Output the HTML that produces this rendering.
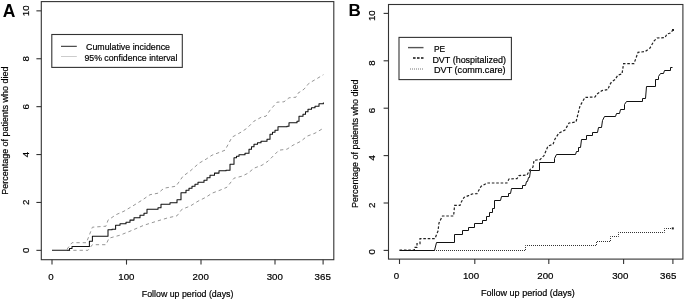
<!DOCTYPE html>
<html><head><meta charset="utf-8"><title>Figure</title>
<style>html,body{margin:0;padding:0;background:#fff}svg{display:block}</style></head>
<body>
<svg width="685" height="300" viewBox="0 0 685 300" font-family="Liberation Sans, Arial, sans-serif" font-size="9" fill="#000" stroke="#000" stroke-width="0.2">
<rect width="685" height="300" fill="#fff" stroke="none"/>
<rect x="41.3" y="1.6" width="292.5" height="258.1" fill="none" stroke="#333" stroke-width="1.1"/>
<line x1="52" y1="259.7" x2="52" y2="264.6" stroke="#333" stroke-width="1.1"/>
<line x1="126.5" y1="259.7" x2="126.5" y2="264.6" stroke="#333" stroke-width="1.1"/>
<line x1="201" y1="259.7" x2="201" y2="264.6" stroke="#333" stroke-width="1.1"/>
<line x1="275" y1="259.7" x2="275" y2="264.6" stroke="#333" stroke-width="1.1"/>
<line x1="323.1" y1="259.7" x2="323.1" y2="264.6" stroke="#333" stroke-width="1.1"/>
<line x1="36.4" y1="250.35" x2="41.3" y2="250.35" stroke="#333" stroke-width="1.1"/>
<line x1="36.4" y1="202.45" x2="41.3" y2="202.45" stroke="#333" stroke-width="1.1"/>
<line x1="36.4" y1="154.55" x2="41.3" y2="154.55" stroke="#333" stroke-width="1.1"/>
<line x1="36.4" y1="106.65" x2="41.3" y2="106.65" stroke="#333" stroke-width="1.1"/>
<line x1="36.4" y1="58.75" x2="41.3" y2="58.75" stroke="#333" stroke-width="1.1"/>
<line x1="36.4" y1="10.85" x2="41.3" y2="10.85" stroke="#333" stroke-width="1.1"/>
<text x="51.0" y="279.7" font-size="9.7" text-anchor="middle">0</text>
<text x="126.4" y="279.7" font-size="9.7" text-anchor="middle">100</text>
<text x="200.7" y="279.7" font-size="9.7" text-anchor="middle">200</text>
<text x="274.8" y="279.7" font-size="9.7" text-anchor="middle">300</text>
<text x="322.7" y="279.7" font-size="9.7" text-anchor="middle">365</text>
<text transform="translate(28.9,250.3) rotate(-90)" font-size="9.7" text-anchor="middle">0</text>
<text transform="translate(28.9,202.4) rotate(-90)" font-size="9.7" text-anchor="middle">2</text>
<text transform="translate(28.9,154.6) rotate(-90)" font-size="9.7" text-anchor="middle">4</text>
<text transform="translate(28.9,106.7) rotate(-90)" font-size="9.7" text-anchor="middle">6</text>
<text transform="translate(28.9,58.8) rotate(-90)" font-size="9.7" text-anchor="middle">8</text>
<text transform="translate(28.9,10.8) rotate(-90)" font-size="9.7" text-anchor="middle">10</text>
<text x="141.8" y="296.9" font-size="9.2" textLength="91.6" lengthAdjust="spacingAndGlyphs">Follow up period (days)</text>
<text transform="translate(7.7,194.8) rotate(-90)" font-size="8.6" textLength="128.3" lengthAdjust="spacingAndGlyphs">Percentage of patients who died</text>
<text x="2.8" y="16.5" font-size="17.5" font-weight="bold" stroke="none">A</text>
<rect x="51.8" y="34.5" width="130.5" height="32.9" fill="#fff" stroke="#333" stroke-width="1.1"/>
<line x1="61" y1="46.3" x2="76.8" y2="46.3" stroke="#222" stroke-width="1"/>
<line x1="61" y1="56.5" x2="76.8" y2="56.5" stroke="#ccc" stroke-width="1"/>
<text x="86" y="49.8" font-size="9.6" textLength="84" lengthAdjust="spacingAndGlyphs">Cumulative incidence</text>
<text x="84.4" y="60.9" font-size="9.6" textLength="93" lengthAdjust="spacingAndGlyphs">95% confidence interval</text>
<polyline points="67.0,249.2 72.0,242.7 86.4,242.7 92.4,227.2 106.0,226.2 108.0,220.2 116.0,214.7 124.0,211.2 134.0,205.2 142.0,200.2 150.0,194.7 158.0,193.2 164.0,188.2 176.0,186.2 183.0,176.2 190.0,171.2 199.0,163.2 206.0,159.2 212.0,155.2 220.0,152.2 225.0,150.2 232.0,137.2 241.0,132.2 247.0,128.2 254.0,121.2 262.0,116.8 266.0,116.2 270.0,110.2 277.0,102.2 284.0,101.8 289.0,97.8 296.0,97.2 298.0,93.2 304.0,89.2 309.0,83.2 316.0,79.2 323.4,74.7" fill="none" stroke="#969696" stroke-width="1" stroke-dasharray="3.3,3"/>
<polyline points="67.0,250.3 88.0,250.3 92.4,244.7 106.0,244.7 109.0,238.2 120.0,235.2 130.0,231.2 144.0,225.2 152.0,222.7 160.0,220.2 168.0,217.8 177.0,215.8 182.0,209.2 190.0,206.2 198.0,201.2 206.0,197.2 212.0,193.2 220.0,190.2 227.0,187.2 234.0,178.2 242.0,176.2 248.0,173.2 254.0,168.2 262.0,165.2 268.0,161.2 275.0,154.2 279.0,150.2 287.0,149.2 293.0,145.2 301.0,141.2 307.0,136.2 315.0,133.2 323.4,128.2" fill="none" stroke="#969696" stroke-width="1" stroke-dasharray="3.3,3"/>
<polyline points="52.0,250.3 67.0,250.3 69.5,250.3 69.5,248.4 72.0,248.4 72.0,246.4 86.4,246.4 89.4,246.4 89.4,241.3 92.4,241.3 92.4,236.2 106.0,236.2 108.0,236.2 108.0,229.8 112.0,229.8 112.0,229.2 115.6,229.2 115.6,225.2 120.0,225.2 120.0,223.8 126.0,223.8 126.0,222.2 130.0,222.2 130.0,220.1 134.0,220.1 134.0,217.8 140.0,217.8 140.0,215.2 144.0,215.2 144.0,213.2 147.0,213.2 147.0,209.2 158.0,209.2 158.0,207.8 161.0,207.8 161.0,204.2 170.0,204.2 170.0,202.7 177.0,202.7 177.0,199.8 181.0,199.8 181.0,192.7 186.0,192.7 186.0,190.2 189.0,190.2 189.0,188.2 192.0,188.2 192.0,186.2 195.0,186.2 195.0,184.2 198.0,184.2 198.0,182.2 204.0,182.2 204.0,180.2 207.0,180.2 207.0,177.8 210.0,177.8 210.0,175.2 214.5,175.2 214.5,173.1 219.0,173.1 219.0,170.8 226.0,170.8 226.0,170.2 230.0,170.2 230.0,164.2 234.0,164.2 234.0,157.8 236.5,157.8 236.5,156.3 239.0,156.3 239.0,154.8 245.0,154.8 245.0,153.2 249.0,153.2 249.0,149.2 251.5,149.2 251.5,146.8 254.0,146.8 254.0,144.2 257.5,144.2 257.5,142.8 261.0,142.8 261.0,141.2 267.0,141.2 267.0,139.2 270.0,139.2 270.0,134.2 272.5,134.2 272.5,132.2 275.0,132.2 275.0,130.2 278.0,130.2 278.0,126.8 287.0,126.8 287.0,126.2 289.0,126.2 289.0,122.8 297.0,122.8 297.0,121.2 299.0,121.2 299.0,116.2 303.0,116.2 303.0,114.2 305.5,114.2 305.5,111.8 308.0,111.8 308.0,109.2 311.5,109.2 311.5,107.8 315.0,107.8 315.0,106.2 319.0,106.2 319.0,103.7 323.4,103.7 323.4,102.5" fill="none" stroke="#111" stroke-width="1.05" stroke-linejoin="round"/>
<rect x="388.5" y="4.5" width="294.4" height="254.6" fill="none" stroke="#333" stroke-width="1.1"/>
<line x1="399.5" y1="259.1" x2="399.5" y2="264.0" stroke="#333" stroke-width="1.1"/>
<line x1="474.8" y1="259.1" x2="474.8" y2="264.0" stroke="#333" stroke-width="1.1"/>
<line x1="548.8" y1="259.1" x2="548.8" y2="264.0" stroke="#333" stroke-width="1.1"/>
<line x1="623.6" y1="259.1" x2="623.6" y2="264.0" stroke="#333" stroke-width="1.1"/>
<line x1="672.9" y1="259.1" x2="672.9" y2="264.0" stroke="#333" stroke-width="1.1"/>
<line x1="383.6" y1="250.40" x2="388.5" y2="250.40" stroke="#333" stroke-width="1.1"/>
<line x1="383.6" y1="203.00" x2="388.5" y2="203.00" stroke="#333" stroke-width="1.1"/>
<line x1="383.6" y1="155.60" x2="388.5" y2="155.60" stroke="#333" stroke-width="1.1"/>
<line x1="383.6" y1="108.20" x2="388.5" y2="108.20" stroke="#333" stroke-width="1.1"/>
<line x1="383.6" y1="60.80" x2="388.5" y2="60.80" stroke="#333" stroke-width="1.1"/>
<line x1="383.6" y1="13.40" x2="388.5" y2="13.40" stroke="#333" stroke-width="1.1"/>
<text x="396.5" y="278.5" font-size="9.7" text-anchor="middle">0</text>
<text x="471.0" y="278.5" font-size="9.7" text-anchor="middle">100</text>
<text x="545.4" y="278.5" font-size="9.7" text-anchor="middle">200</text>
<text x="620.3" y="278.5" font-size="9.7" text-anchor="middle">300</text>
<text x="668.2" y="278.5" font-size="9.7" text-anchor="middle">365</text>
<text transform="translate(375.4,251.8) rotate(-90)" font-size="9.7" text-anchor="middle">0</text>
<text transform="translate(375.4,205.3) rotate(-90)" font-size="9.7" text-anchor="middle">2</text>
<text transform="translate(375.4,157.9) rotate(-90)" font-size="9.7" text-anchor="middle">4</text>
<text transform="translate(375.4,110.5) rotate(-90)" font-size="9.7" text-anchor="middle">6</text>
<text transform="translate(375.4,63.1) rotate(-90)" font-size="9.7" text-anchor="middle">8</text>
<text transform="translate(375.4,15.7) rotate(-90)" font-size="9.7" text-anchor="middle">10</text>
<text x="481" y="296.0" font-size="9.2" textLength="93.8" lengthAdjust="spacingAndGlyphs">Follow up period (days)</text>
<text transform="translate(358.1,208) rotate(-90)" font-size="8.6" textLength="128.4" lengthAdjust="spacingAndGlyphs">Percentage of patients who died</text>
<text x="348.6" y="16.4" font-size="17" font-weight="bold" stroke="none">B</text>
<rect x="399" y="37.4" width="112.4" height="42.2" fill="#fff" stroke="#333" stroke-width="1.1"/>
<line x1="408" y1="47.6" x2="423.5" y2="47.6" stroke="#555" stroke-width="1.4"/>
<line x1="413" y1="58" x2="423.5" y2="58" stroke="#111" stroke-width="1.3" stroke-dasharray="2.6,1.4"/>
<line x1="410" y1="69" x2="423.5" y2="69" stroke="#777" stroke-width="1" stroke-dasharray="1,1"/>
<text x="434" y="52.2" font-size="9.4" textLength="11.2" lengthAdjust="spacingAndGlyphs">PE</text>
<text x="432.4" y="63" font-size="9.4" textLength="73.6" lengthAdjust="spacingAndGlyphs">DVT (hospitalized)</text>
<text x="434" y="73.4" font-size="9.4" textLength="71.6" lengthAdjust="spacingAndGlyphs">DVT (comm.care)</text>
<polyline points="434.5,250.5 525.5,250.5 525.5,245.5 596.5,245.5 596.5,241.5 610.5,241.5 610.5,236.5 618.5,236.5 618.5,232.5 664.5,232.5 664.5,228.5 672.5,228.5" fill="none" stroke="#333" stroke-width="1" stroke-dasharray="1,1" stroke-dashoffset="0.5"/>
<polyline points="399.5,250.0 414.4,250.0 414.4,247.4 417.0,247.4 417.0,243.6 420.0,243.6 420.0,238.6 435.0,238.6 436.0,236.0 438.0,231.0 439.0,223.0 442.4,216.0 453.6,216.0 454.6,205.4 460.0,205.4 461.0,202.6 464.0,197.4 469.0,195.4 472.0,194.0 477.0,193.6 481.0,186.4 487.0,183.0 507.0,183.0 509.0,179.0 517.0,178.6 519.0,175.6 527.0,175.0 530.0,169.6 533.0,167.0 534.0,160.4 540.0,159.6 544.0,155.6 548.0,146.0 553.0,144.4 555.0,139.0 559.0,133.0 565.0,130.0 569.0,123.0 576.0,122.0 580.0,106.0 585.0,97.4 595.0,97.0 597.0,94.0 602.0,90.6 608.0,89.4 609.6,85.0 611.5,82.0 615.0,79.6 618.0,75.0 622.0,74.0 623.6,63.6 634.0,63.6 638.0,52.4 645.0,51.6 650.0,48.0 654.0,41.0 657.0,38.0 665.0,37.6 667.0,34.0 670.4,33.0 673.0,30.0" fill="none" stroke="#222" stroke-width="1.2" stroke-dasharray="2.6,1.8"/>
<polyline points="399.5,250.5 434.5,250.5 436.5,242.5 454.5,242.5 454.5,234.5 462.5,234.5 462.5,230.5 468.5,230.5 468.5,227.5 474.5,227.5 474.5,223.5 482.5,223.5 482.5,220.5 486.5,220.5 486.5,216.5 489.5,216.5 489.5,212.5 492.5,212.5 492.5,208.5 494.5,208.5 494.5,200.5 500.5,200.5 501.5,196.5 508.5,196.5 508.5,193.5 510.5,193.5 511.5,188.5 522.5,188.5 522.5,185.5 525.5,185.5 526.5,181.5 527.5,181.5 528.5,177.5 529.5,177.5 530.5,170.5 539.5,170.5 539.5,162.5 554.5,162.5 554.5,158.5 556.5,154.5 575.5,154.5 576.5,151.5 578.5,151.5 578.5,147.5 580.5,147.5 581.5,139.5 586.5,139.5 586.5,135.5 592.5,135.5 592.5,132.5 597.5,132.5 598.5,127.5 601.5,127.5 602.5,120.5 604.5,116.5 615.5,116.5 616.5,113.5 619.5,113.5 620.5,109.5 624.5,109.5 624.5,104.5 626.5,101.5 642.5,101.5 642.5,98.5 645.5,98.5 646.5,86.5 655.5,86.5 655.5,79.5 658.5,79.5 658.5,76.5 660.5,73.5 663.5,73.5 664.5,70.5 670.5,70.5 670.5,67.5 672.5,67.5" fill="none" stroke="#111" stroke-width="1"/>
<rect x="671.8" y="227.4" width="2" height="2" fill="#222" stroke="none"/>
<rect x="672" y="29" width="2" height="2" fill="#222" stroke="none"/>
</svg>
</body></html>
